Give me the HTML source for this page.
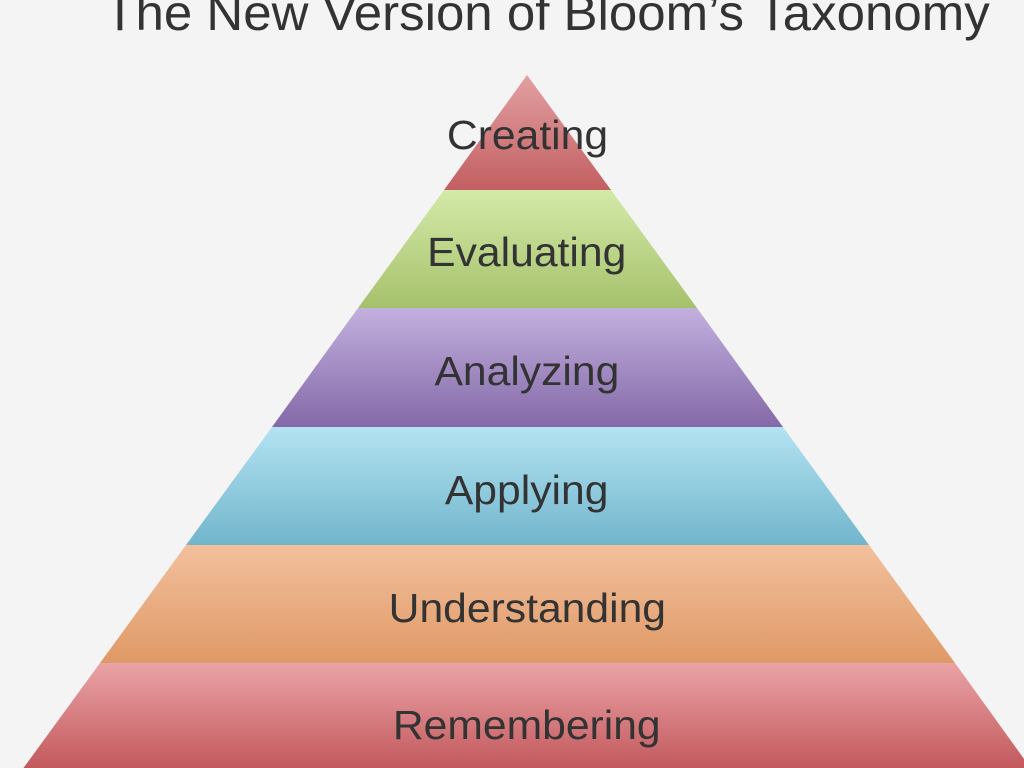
<!DOCTYPE html>
<html><head><style>
html,body{margin:0;padding:0;background:#f4f4f4;}
body{width:1024px;height:768px;overflow:hidden;position:relative;}
.t{position:absolute;font-family:"Liberation Sans",sans-serif;color:#333;white-space:nowrap;text-align:center;line-height:44px;font-size:41px;}
.t span{display:inline-block;transform:scaleX(1.04)}
</style></head><body>
<svg width="1024" height="768" style="position:absolute;left:0;top:0">
<defs>
<linearGradient id="r1" x1="0" y1="0" x2="0" y2="1"><stop offset="0" stop-color="#e3a0a2"/><stop offset="1" stop-color="#c25f62"/></linearGradient>
<linearGradient id="g" x1="0" y1="0" x2="0" y2="1"><stop offset="0" stop-color="#d3eaa8"/><stop offset="1" stop-color="#a6c16c"/></linearGradient>
<linearGradient id="p" x1="0" y1="0" x2="0" y2="1"><stop offset="0" stop-color="#c2b0de"/><stop offset="1" stop-color="#8469a8"/></linearGradient>
<linearGradient id="b" x1="0" y1="0" x2="0" y2="1"><stop offset="0" stop-color="#b3e3f2"/><stop offset="1" stop-color="#72b5cc"/></linearGradient>
<linearGradient id="o" x1="0" y1="0" x2="0" y2="1"><stop offset="0" stop-color="#f2c09d"/><stop offset="1" stop-color="#e09966"/></linearGradient>
<linearGradient id="r2" x1="0" y1="0" x2="0" y2="1"><stop offset="0" stop-color="#eaa3a6"/><stop offset="1" stop-color="#c2585c"/></linearGradient>
</defs>
<polygon points="527,75 611,190 444,190" fill="url(#r1)"/>
<polygon points="444,190 611,190 697,308 358,308" fill="url(#g)"/>
<polygon points="358,308 697,308 783,427 272,427" fill="url(#p)"/>
<polygon points="272,427 783,427 869,545 186,545" fill="url(#b)"/>
<polygon points="186,545 869,545 955,663 100,663" fill="url(#o)"/>
<polygon points="100,663 955,663 1032,770 22,770" fill="url(#r2)"/>
</svg>
<div class="t" style="left:47px;top:-15px;width:1000px;font-size:50px;line-height:56px;"><span style="transform:scaleX(1.02)">The New Version of Bloom’s Taxonomy</span></div>
<div class="t" style="left:277px;top:113px;width:500px;"><span>Creating</span></div>
<div class="t" style="left:277px;top:230px;width:500px;"><span>Evaluating</span></div>
<div class="t" style="left:277px;top:349px;width:500px;"><span>Analyzing</span></div>
<div class="t" style="left:277px;top:468px;width:500px;"><span>Applying</span></div>
<div class="t" style="left:277px;top:586px;width:500px;"><span>Understanding</span></div>
<div class="t" style="left:277px;top:703px;width:500px;"><span>Remembering</span></div>
</body></html>
